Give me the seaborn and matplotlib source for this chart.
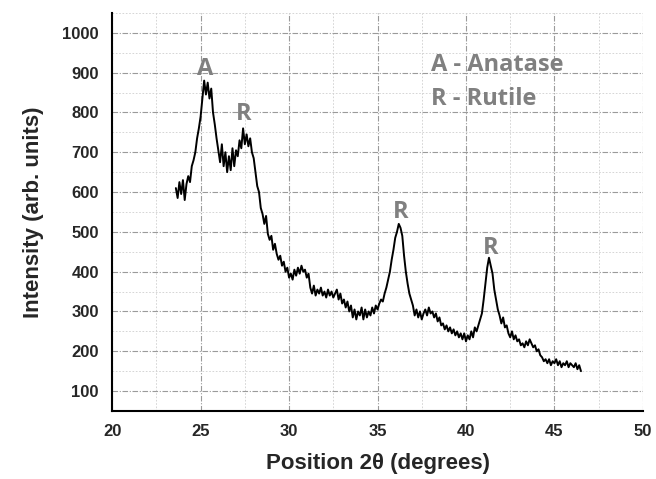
import numpy as np
import pandas as pd
import matplotlib
matplotlib.use('Agg')
import matplotlib.pyplot as plt
import seaborn as sns
from matplotlib.ticker import MultipleLocator

# 2-theta positions, 0.1 deg steps from 23.6 to 46.5
two_theta = np.round(np.arange(23.6, 46.55, 0.1), 1)

# intensity (arb. units)
intensity = [
    610, 585, 625, 595, 630, 580, 620, 640, 625, 665,   # 23.6 - 24.5
    680, 700, 735, 760, 790, 835, 880, 845, 875, 835,   # 24.6 - 25.5
    860, 800, 770, 735, 705, 675, 720, 665, 700, 650,   # 25.6 - 26.5
    690, 655, 710, 665, 705, 690, 730, 710, 760, 720,   # 26.6 - 27.5
    745, 715, 735, 700, 685, 650, 615, 600, 560, 545,   # 27.6 - 28.5
    520, 540, 495, 480, 490, 455, 470, 445, 430, 440,   # 28.6 - 29.5
    415, 425, 400, 410, 385, 395, 380, 405, 390, 410,   # 29.6 - 30.5
    395, 415, 400, 405, 385, 395, 360, 345, 365, 340,   # 30.6 - 31.5
    355, 345, 360, 340, 350, 335, 355, 340, 350, 335,   # 31.6 - 32.5
    345, 355, 330, 345, 320, 330, 310, 325, 300, 315,   # 32.6 - 33.5
    285, 305, 280, 300, 290, 310, 280, 305, 285, 300,   # 33.6 - 34.5
    290, 310, 295, 315, 305, 320, 330, 325, 345, 360,   # 34.6 - 35.5
    380, 400, 430, 455, 485, 500, 520, 510, 490, 440,   # 35.6 - 36.5
    400, 370, 345, 330, 315, 290, 305, 285, 300, 280,   # 36.6 - 37.5
    295, 305, 290, 310, 295, 300, 285, 295, 275, 285,   # 37.6 - 38.5
    265, 270, 255, 265, 250, 260, 245, 255, 240, 250,   # 38.6 - 39.5
    235, 245, 230, 245, 225, 240, 230, 250, 235, 260,   # 39.6 - 40.5
    250, 265, 280, 295, 330, 370, 410, 435, 415, 395,   # 40.6 - 41.5
    355, 330, 305, 290, 270, 285, 260, 265, 245, 235,   # 41.6 - 42.5
    250, 230, 240, 225, 230, 215, 220, 210, 225, 215,   # 42.6 - 43.5
    230, 220, 210, 215, 200, 205, 190, 185, 175, 180,   # 43.6 - 44.5
    170, 180, 165, 175, 170, 180, 165, 175, 160, 170,   # 44.6 - 45.5
    165, 175, 160, 170, 165, 160, 170, 155, 165, 150,   # 45.6 - 46.5
]

peak_labels = ['A', 'R', 'R', 'R']
peak_x = [25.25, 27.43, 36.3, 41.38]
peak_y = [908, 796, 550, 459]

legend_lines = ['A - Anatase', 'R - Rutile']

df = pd.DataFrame({'two_theta': two_theta, 'intensity': intensity})

sns.set_style('white')
plt.rcParams['font.family'] = ['Liberation Sans', 'DejaVu Sans']

fig = plt.figure(figsize=(6.56, 4.79), dpi=100)
ax = fig.add_axes([0.171, 0.142, 0.809, 0.831])

sns.lineplot(data=df, x='two_theta', y='intensity', ax=ax,
             color='black', linewidth=1.4)

ax.set_xlim(20, 50)
ax.set_ylim(50, 1050)
ax.xaxis.set_major_locator(MultipleLocator(5))
ax.xaxis.set_minor_locator(MultipleLocator(2.5))
ax.yaxis.set_major_locator(MultipleLocator(100))
ax.yaxis.set_minor_locator(MultipleLocator(50))
ax.set_yticks(range(100, 1001, 100))

ax.grid(True, which='major', color='#9a9a9a', linestyle=(0, (5, 1.5, 1, 1.5)), linewidth=0.8)
ax.grid(True, which='minor', color='#cfcfcf', linestyle=(0, (2, 2)), linewidth=0.6)
ax.set_axisbelow(True)

for side in ['top', 'right']:
    ax.spines[side].set_visible(False)
for side in ['left', 'bottom']:
    ax.spines[side].set_linewidth(1.5)
    ax.spines[side].set_color('black')

ax.tick_params(which='major', direction='out', length=6, width=1.3, labelsize=12)
ax.tick_params(which='minor', direction='out', length=4, width=1.1)
for lbl in ax.get_xticklabels() + ax.get_yticklabels():
    lbl.set_fontweight('bold')

ax.set_xlabel('Position 2\u03b8 (degrees)', fontsize=16, fontweight='bold', labelpad=10)
ax.set_ylabel('Intensity (arb. units)', fontsize=16, fontweight='bold', labelpad=13)

for lab, px, py in zip(peak_labels, peak_x, peak_y):
    ax.text(px, py, lab, color='#808080', fontsize=17, fontweight='bold',
            ha='center', va='center', family=['Open Sans', 'DejaVu Sans'])

for i, line in enumerate(legend_lines):
    ax.text(38.0, 920 - i * 85, line, color='#808080', fontsize=17, fontweight='bold',
            ha='left', va='center', family=['Open Sans', 'DejaVu Sans'])

fig.savefig('out.png', dpi=100)
